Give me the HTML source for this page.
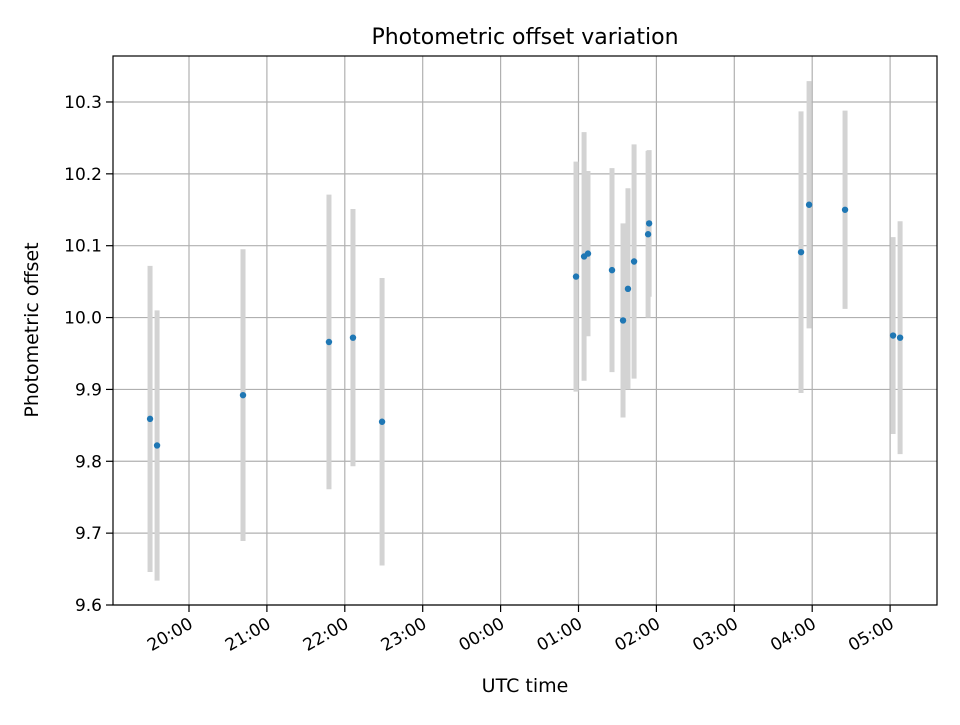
<!DOCTYPE html>
<html><head><meta charset="utf-8"><style>
html,body{margin:0;padding:0;background:#fff}
svg text{font-family:"DejaVu Sans","Liberation Sans",sans-serif;fill:#000}
</style></head><body>
<svg id="chart" width="960" height="720" xmlns="http://www.w3.org/2000/svg">
<rect width="960" height="720" fill="#fff"/>
<g id="grid"></g>
<g id="bars"></g>
<g id="pts"></g>
<rect x="113" y="56" width="824" height="549" fill="none" stroke="#000" stroke-width="1.2"/>
<g id="ticks"></g>
<text x="525" y="44" text-anchor="middle" font-size="22">Photometric offset variation</text>
<text x="525" y="692" text-anchor="middle" font-size="19">UTC time</text>
<text transform="translate(38,330) rotate(-90)" text-anchor="middle" font-size="19">Photometric offset</text>
</svg>
<script>
// minutes relative to 20:00 UTC
const times = [-30.0,-24.6,41.6,107.8,126.3,148.7,298.1,304.3,307.3,325.8,334.3,338.1,342.8,353.6,354.4,471.4,477.6,505.3,542.3,547.7];
const offsets = [9.859,9.822,9.892,9.966,9.972,9.855,10.057,10.085,10.089,10.066,9.996,10.040,10.078,10.116,10.131,10.091,10.157,10.150,9.975,9.972];
const errors = [0.213,0.188,0.203,0.205,0.179,0.200,0.160,0.173,0.115,0.142,0.135,0.140,0.163,0.116,0.102,0.196,0.172,0.138,0.137,0.162];
const yTicks = [9.6,9.7,9.8,9.9,10.0,10.1,10.2,10.3];
const xTickLabels = ["20:00","21:00","22:00","23:00","00:00","01:00","02:00","03:00","04:00","05:00"];

const NS="http://www.w3.org/2000/svg";
const L=113,R=937,T=56,B=605;
const xs=m=>189+m*(77.9/60);
const ys=v=>605-(v-9.6)*718.6;
function mk(tag,attrs,parent){const e=document.createElementNS(NS,tag);for(const k in attrs)e.setAttribute(k,attrs[k]);parent.appendChild(e);return e;}
const grid=document.getElementById('grid'),ticks=document.getElementById('ticks'),bars=document.getElementById('bars'),pts=document.getElementById('pts');
yTicks.forEach(v=>{
  const y=ys(v);
  const g=mk('line',{x1:L,x2:R,y1:y,y2:y,stroke:'#b0b0b0','stroke-width':1.2},grid);
  
  
  mk('line',{x1:L-7,x2:L,y1:y,y2:y,stroke:'#000','stroke-width':1.2},ticks);
  const t=mk('text',{x:L-11,y:y+6,'text-anchor':'end','font-size':'17'},ticks);
  t.textContent=v.toFixed(1);
  
  
});
xTickLabels.forEach((lab,i)=>{
  const x=xs(i*60);
  const g=mk('line',{x1:x,x2:x,y1:T,y2:B,stroke:'#b0b0b0','stroke-width':1.2},grid);
  
  
  mk('line',{x1:x,x2:x,y1:B,y2:B+7,stroke:'#000','stroke-width':1.2},ticks);
  const t=mk('text',{transform:`translate(${x+5},${B+22}) rotate(-30)`,'text-anchor':'end','font-size':'17'},ticks);
  t.textContent=lab;
  
  
});
times.forEach((m,i)=>{
  const x=xs(m);
  const b=mk('line',{x1:x,x2:x,y1:ys(offsets[i]+errors[i]),y2:ys(offsets[i]-errors[i]),stroke:'#d3d3d3','stroke-width':5},bars);
  
  
});
times.forEach((m,i)=>{
  const c=mk('circle',{cx:xs(m),cy:ys(offsets[i]),r:3.2,fill:'#1f77b4'},pts);
  
  
});
</script>
</body></html>
